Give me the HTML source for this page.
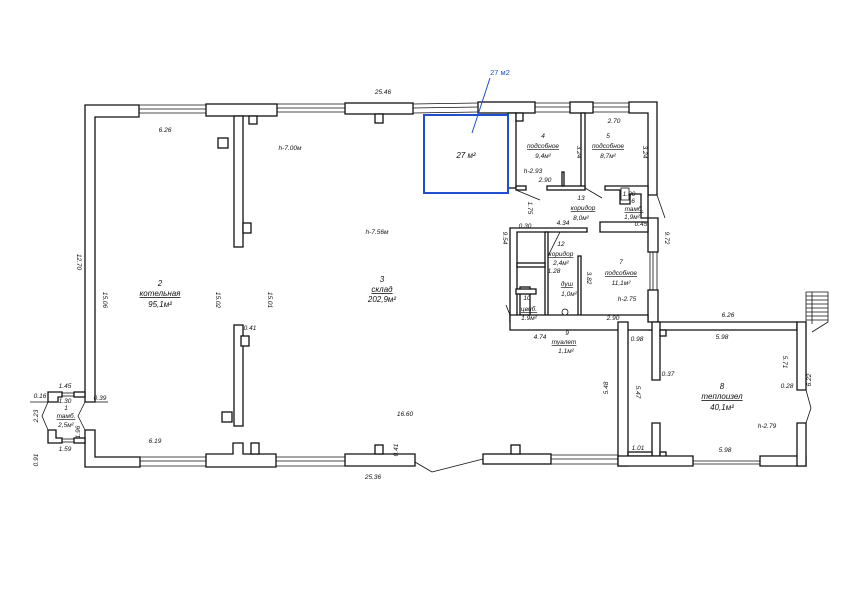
<!DOCTYPE html>
<html><head><meta charset="utf-8"><style>
html,body{margin:0;padding:0;background:#fff;}
svg{display:block}
text{font-family:"Liberation Sans",sans-serif;font-style:italic;font-size:6.5px;fill:#111;text-anchor:middle}
.b{font-size:8px}
.u{text-decoration:underline}
</style></head><body>
<svg width="842" height="595" viewBox="0 0 842 595" xmlns="http://www.w3.org/2000/svg">
<g fill="#fff" stroke="#111" stroke-width="1.3">
<g stroke-width="0.8">
<line x1="139" y1="105" x2="206" y2="105"/><line x1="139" y1="109" x2="206" y2="109"/><line x1="139" y1="113" x2="206" y2="113"/>
<line x1="277" y1="104" x2="345" y2="104"/><line x1="277" y1="108" x2="345" y2="108"/><line x1="277" y1="112" x2="345" y2="112"/>
<line x1="413" y1="104" x2="478" y2="103"/><line x1="413" y1="108" x2="478" y2="107"/><line x1="413" y1="113" x2="478" y2="112"/>
<line x1="535" y1="103" x2="570" y2="103"/><line x1="535" y1="107" x2="570" y2="107"/><line x1="535" y1="112" x2="570" y2="112"/>
<line x1="593" y1="103" x2="629" y2="103"/><line x1="593" y1="107" x2="629" y2="107"/><line x1="593" y1="112" x2="629" y2="112"/>
<line x1="140" y1="457" x2="206" y2="457"/><line x1="140" y1="461" x2="206" y2="461"/><line x1="140" y1="466" x2="206" y2="466"/>
<line x1="276" y1="457" x2="345" y2="457"/><line x1="276" y1="461" x2="345" y2="461"/><line x1="276" y1="466" x2="345" y2="466"/>
<line x1="551" y1="455" x2="618" y2="455"/><line x1="551" y1="459" x2="618" y2="459"/><line x1="551" y1="464" x2="618" y2="464"/>
<line x1="693" y1="461" x2="760" y2="461"/><line x1="693" y1="464" x2="760" y2="464"/>
<line x1="650" y1="252" x2="650" y2="290"/><line x1="653" y1="252" x2="653" y2="290"/><line x1="657" y1="252" x2="657" y2="290"/>
<line x1="415" y1="462" x2="432" y2="472"/><line x1="432" y1="472" x2="483" y2="459"/>
<line x1="657" y1="195" x2="665" y2="218"/>
<line x1="806" y1="390" x2="811" y2="408"/><line x1="811" y1="408" x2="806" y2="423"/>
<line x1="85" y1="402" x2="78" y2="416"/><line x1="78" y1="416" x2="85" y2="430"/>
<line x1="48" y1="402" x2="42" y2="416"/><line x1="42" y1="416" x2="48" y2="430"/>
<line x1="516" y1="190" x2="540" y2="200"/><line x1="585" y1="188" x2="602" y2="198"/>
<line x1="560" y1="232" x2="545" y2="262"/><line x1="506" y1="305" x2="512" y2="320"/>
<line x1="62" y1="393" x2="74" y2="393"/><line x1="62" y1="396" x2="74" y2="396"/>
<line x1="62" y1="439" x2="74" y2="439"/><line x1="62" y1="442" x2="74" y2="442"/>
<line x1="30" y1="402" x2="48" y2="402"/><line x1="95" y1="402" x2="108" y2="402"/>
</g>
<path d="M85 105 H139 V117 H95 V402 H85 Z"/>
<path d="M85 430 H95 V457 H140 V467 H85 Z"/>
<rect x="206" y="104" width="71" height="12"/>
<rect x="234" y="116" width="9" height="131"/>
<rect x="249" y="116" width="8" height="8"/>
<rect x="218" y="138" width="10" height="10"/>
<rect x="243" y="223" width="8" height="10"/>
<rect x="345" y="103" width="68" height="11"/>
<rect x="375" y="114" width="8" height="9"/>
<rect x="478" y="102" width="57" height="11"/>
<rect x="508" y="113" width="8" height="75"/>
<rect x="516" y="113" width="7" height="8"/>
<rect x="570" y="102" width="23" height="11"/>
<rect x="581" y="113" width="4" height="75"/>
<path d="M629 102 H657 V195 H648 V113 H629 Z"/>
<rect x="516" y="186" width="10" height="4"/>
<rect x="547" y="186" width="38" height="4"/>
<rect x="562" y="172" width="2" height="14"/>
<path d="M605 186 H648 V218 H641 V194 H630 V204 H620 V190 H605 Z"/>
<path d="M648 218 H658 V252 H648 Z"/>
<path d="M648 290 H658 V330 H648 Z"/>
<path d="M510 228 H587 V232 H517 V322 H510 Z"/>
<rect x="545" y="232" width="3" height="90"/>
<path d="M600 222 H648 V232 H600 Z"/>
<rect x="578" y="256" width="3" height="60"/>
<rect x="517" y="263" width="28" height="4"/>
<rect x="520" y="287" width="10" height="28"/>
<rect x="516" y="289" width="20" height="5"/>
<path d="M510 315 H648 V322 H797 V330 H510 Z"/>
<path d="M618 322 H628 V466 H618 Z"/>
<path d="M652 322 H660 V380 H652 Z"/>
<path d="M652 423 H660 V456 H652 Z"/>
<rect x="628" y="452" width="24" height="4"/>
<rect x="660" y="330" width="6" height="6"/>
<rect x="660" y="452" width="6" height="6"/>
<path d="M618 456 H693 V466 H618 Z"/>
<path d="M760 456 H806 V466 H760 Z"/>
<path d="M797 322 H806 V390 H797 Z"/>
<path d="M797 423 H806 V466 H797 Z"/>
<path d="M206 454 H233 V443 H243 V454 H276 V467 H206 Z"/>
<rect x="251" y="443" width="8" height="11"/>
<path d="M345 454 H415 V466 H345 Z"/>
<rect x="375" y="445" width="8" height="9"/>
<rect x="483" y="454" width="68" height="10"/>
<rect x="511" y="445" width="9" height="9"/>
<rect x="234" y="325" width="9" height="101"/>
<rect x="241" y="336" width="8" height="10"/>
<rect x="222" y="412" width="10" height="10"/>
<path d="M48 392 H62 V397 H58 V402 H48 Z"/>
<rect x="74" y="392" width="11" height="5"/>
<path d="M48 430 H56 V438 H62 V443 H48 Z"/>
<rect x="74" y="438" width="11" height="5"/>
<rect x="621" y="188" width="8" height="12" stroke-width="0.8"/>
<circle cx="565" cy="312" r="3" stroke-width="0.8"/>
</g>
<rect x="424" y="115" width="84" height="78" fill="none" stroke="#1f4fd0" stroke-width="2"/>
<line x1="490" y1="78" x2="472" y2="133" stroke="#1f4fd0" stroke-width="1"/>
<text x="500" y="75" style="fill:#1f4fd0;font-style:normal;font-size:7.5px">27 м2</text>
<text x="466" y="158" class="b">27 м²</text>
<g fill="none" stroke="#111" stroke-width="0.8">
<path d="M806 292 H828 V322 L812 332 M806 292 V322"/>
<path d="M812 292 V324 M806 296 H828 M806 300 H828 M806 304 H828 M806 308 H828 M806 312 H828 M806 316 H828 M806 320 H828"/>
</g>
<text x="383" y="94">25.46</text>
<text x="165" y="132">6.26</text>
<text x="290" y="150">h-7.00м</text>
<text x="377" y="234">h-7.56м</text>
<text transform="translate(77,262) rotate(90)">12.70</text>
<text transform="translate(103,300) rotate(90)">15.06</text>
<text transform="translate(216,300) rotate(90)">15.02</text>
<text transform="translate(268,300) rotate(90)">15.01</text>
<text x="160" y="286" class="b">2</text>
<text x="160" y="296" class="b u">котельная</text>
<text x="160" y="307" class="b">95,1м²</text>
<text x="382" y="282" class="b">3</text>
<text x="382" y="292" class="b u">склад</text>
<text x="382" y="302" class="b">202,9м²</text>
<text x="250" y="330">0.41</text>
<text x="405" y="416">16.60</text>
<text transform="translate(398,450) rotate(-90)">0.41</text>
<text x="155" y="443">6.19</text>
<text x="373" y="479">25.36</text>
<text x="65" y="388">1.45</text>
<text x="40" y="398">0.16</text>
<text x="65" y="403">1.30</text>
<text x="100" y="400">0.39</text>
<text x="66" y="410">1</text>
<text x="66" y="418" class="u">тамб.</text>
<text x="66" y="427">2,5м²</text>
<text transform="translate(38,416) rotate(-90)">2.23</text>
<text transform="translate(80,432) rotate(-90)">1.96</text>
<text x="65" y="451">1.59</text>
<text transform="translate(38,460) rotate(-90)">0.91</text>
<text x="543" y="138">4</text>
<text x="543" y="148" class="u">подсобное</text>
<text x="543" y="158">9,4м²</text>
<text transform="translate(577,152) rotate(90)">3.24</text>
<text x="533" y="173">h-2.93</text>
<text x="545" y="182">2.90</text>
<text x="614" y="123">2.70</text>
<text x="608" y="138">5</text>
<text x="608" y="148" class="u">подсобное</text>
<text x="608" y="158">8,7м²</text>
<text transform="translate(643,152) rotate(90)">3.24</text>
<text x="581" y="200">13</text>
<text x="583" y="210" class="u">коридор</text>
<text x="581" y="220">8,0м²</text>
<text transform="translate(528,208) rotate(90)">1.75</text>
<text x="629" y="196">1.80</text>
<text x="633" y="203">6</text>
<text x="634" y="211" class="u">тамб.</text>
<text x="632" y="219">1,9м²</text>
<text x="641" y="226">0.45</text>
<text transform="translate(665,238) rotate(90)">9.72</text>
<text x="525" y="228">0.30</text>
<text x="563" y="225">4.34</text>
<text transform="translate(503,238) rotate(90)">9.54</text>
<text x="561" y="246">12</text>
<text x="561" y="256" class="u">коридор</text>
<text x="561" y="265">2,4м²</text>
<text x="554" y="273">1.28</text>
<text x="567" y="286" class="u">душ</text>
<text x="569" y="296">1,0м²</text>
<text transform="translate(587,278) rotate(90)">3.82</text>
<text x="621" y="264">7</text>
<text x="621" y="275" class="u">подсобное</text>
<text x="621" y="285">11,1м²</text>
<text x="627" y="301">h-2.75</text>
<text x="613" y="320">2.90</text>
<text x="527" y="300">10</text>
<text x="529" y="311" class="u">цвиб.</text>
<text x="529" y="320">1.9м²</text>
<text x="567" y="335">9</text>
<text x="564" y="344" class="u">туалет</text>
<text x="566" y="353">1,1м²</text>
<text x="540" y="339">4.74</text>
<text x="728" y="317">6.26</text>
<text x="637" y="341">0.98</text>
<text x="722" y="339">5.98</text>
<text transform="translate(783,362) rotate(90)">5.71</text>
<text transform="translate(811,380) rotate(-90)">6.22</text>
<text x="668" y="376">0.37</text>
<text x="787" y="388">0.28</text>
<text x="722" y="389" class="b">8</text>
<text x="722" y="399" class="b u">теплоизел</text>
<text x="722" y="410" class="b">40,1м²</text>
<text transform="translate(608,388) rotate(-90)">5.48</text>
<text transform="translate(636,392) rotate(90)">5.47</text>
<text x="767" y="428">h-2.79</text>
<text x="638" y="450">1.01</text>
<text x="725" y="452">5.98</text>
</svg>
</body></html>
